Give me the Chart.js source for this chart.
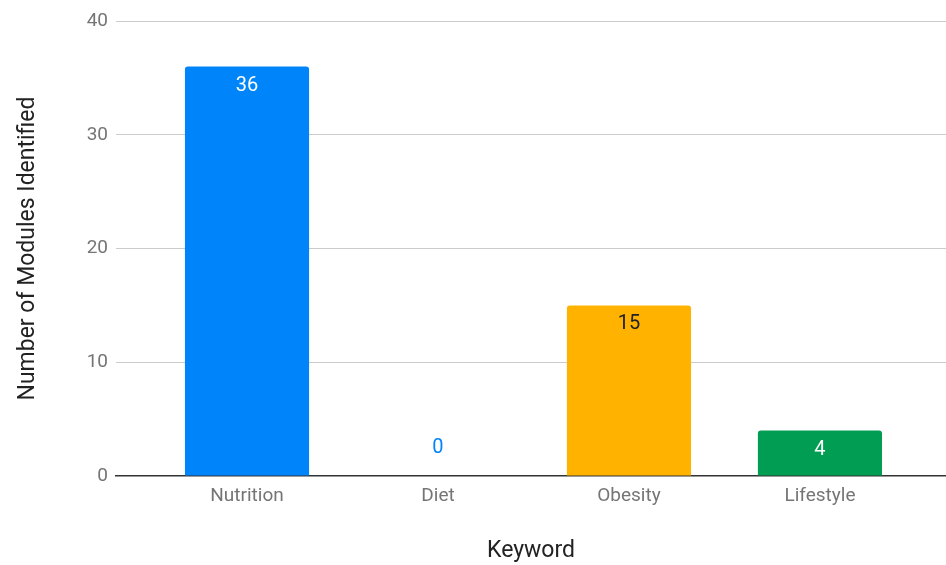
<!DOCTYPE html>
<html lang="en">
<head>
    <meta charset="UTF-8">
    <title>Modules by Keyword</title>
    <script src="https://cdn.jsdelivr.net/npm/chart.js"></script>
    <style>
        html, body { margin: 0; padding: 0; background: #fff; }
        #wrap { width: 946px; height: 565px; }
    </style>
</head>
<body>
    <div id="wrap"><canvas id="keywords"></canvas></div>

    <script>
        const keywords = ['Nutrition', 'Diet', 'Obesity', 'Lifestyle'];
        const modules = [36, 0, 15, 4];
        const barColors = ['#0084f9', '#0084f9', '#ffb300', '#009d52'];
        const labelColors = ['#ffffff', '#0084f9', '#222222', '#ffffff'];

        // value labels drawn just inside the top of each bar (above it when the bar is empty)
        const valueLabels = {
            id: 'valueLabels',
            afterDatasetsDraw(chart) {
                const ctx = chart.ctx;
                const meta = chart.getDatasetMeta(0);
                ctx.save();
                ctx.font = '20px Roboto';
                ctx.textAlign = 'center';
                ctx.textBaseline = 'middle';
                meta.data.forEach((bar, i) => {
                    const v = modules[i];
                    ctx.fillStyle = labelColors[i];
                    const y = v === 0 ? bar.y - 28 : bar.y + 19;
                    ctx.fillText(String(v), bar.x, y);
                });
                ctx.restore();
            }
        };

        new Chart(document.getElementById('keywords'), {
            type: 'bar',
            data: {
                datasets: [{
                    label: 'Modules',
                    data: modules.map((v, i) => ({ x: i, y: v })),
                    backgroundColor: barColors,
                    borderRadius: { topLeft: 3, topRight: 3 },
                    borderSkipped: 'bottom',
                    barPercentage: 0.65,
                    categoryPercentage: 1
                }]
            },
            options: {
                responsive: true,
                maintainAspectRatio: false,
                animation: false,
                layout: { padding: { top: 21, right: 0, bottom: 0, left: 0 } },
                plugins: {
                    legend: { display: false },
                    tooltip: { enabled: false }
                },
                scales: {
                    x: {
                        type: 'linear',
                        offset: false,
                        min: -0.686,
                        max: 3.66,
                        afterBuildTicks: scale => { scale.ticks = keywords.map((k, i) => ({ value: i })); },
                        afterFit: scale => { scale.height = 89; },
                        grid: { display: false, drawTicks: false, offset: false },
                        border: { display: true, color: '#333333', width: 1.5 },
                        ticks: {
                            autoSkip: false,
                            maxRotation: 0,
                            padding: 9,
                            color: '#757575',
                            font: { family: 'Roboto', size: 19 },
                            callback: v => keywords[v]
                        },
                        title: {
                            display: true,
                            text: 'Keyword',
                            color: '#222222',
                            font: { family: 'Roboto', size: 23 },
                            padding: { top: 0, bottom: 0 }
                        }
                    },
                    y: {
                        min: 0,
                        max: 40,
                        afterFit: scale => { scale.width = 116; },
                        grid: {
                            drawTicks: false,
                            color: c => c.tick && c.tick.value === 0 ? 'rgba(0,0,0,0)' : '#cccccc',
                            lineWidth: 1
                        },
                        border: { display: false },
                        ticks: {
                            stepSize: 10,
                            padding: 8,
                            color: '#757575',
                            font: { family: 'Roboto', size: 19 }
                        },
                        title: {
                            display: true,
                            text: 'Number of Modules Identified',
                            color: '#222222',
                            font: { family: 'Roboto', size: 23 },
                            padding: { top: 14, bottom: 0 }
                        }
                    }
                }
            },
            plugins: [valueLabels]
        });
    </script>
</body>
</html>
